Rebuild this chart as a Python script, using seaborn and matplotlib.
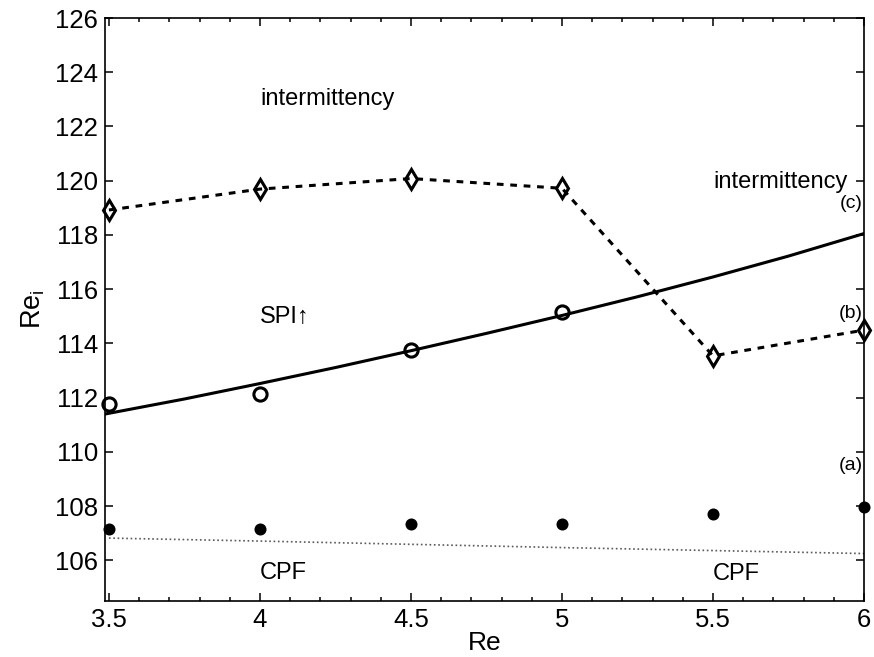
import matplotlib
matplotlib.use("Agg")
import matplotlib.pyplot as plt
import seaborn as sns
from matplotlib.ticker import MultipleLocator

# data
re_vals = [3.5, 4.0, 4.5, 5.0, 5.5, 6.0]
intermittency_c = [118.92, 119.69, 120.08, 119.72, 113.54, 114.49]
spi_points = [111.76, 112.15, 113.75, 115.14]
cpf_points = [107.17, 107.17, 107.35, 107.35, 107.70, 107.97]
curve_re = [3.48, 3.75, 4.0, 4.25, 4.5, 4.75, 5.0, 5.25, 5.5, 5.75, 6.0]
curve_b = [111.38, 111.95, 112.52, 113.11, 113.73, 114.37, 115.03, 115.72, 116.45, 117.22, 118.05]
curve_a = [106.82, 106.71, 106.59, 106.47, 106.36, 106.25]

sns.set_style("ticks")
plt.rcParams['font.family'] = ['Liberation Sans', 'DejaVu Sans']
plt.rcParams['mathtext.fontset'] = 'custom'
plt.rcParams['mathtext.rm'] = 'Liberation Sans'
plt.rcParams['mathtext.it'] = 'Liberation Sans'
plt.rcParams['text.color'] = 'black'
plt.rcParams['axes.labelcolor'] = 'black'
plt.rcParams['xtick.color'] = 'black'
plt.rcParams['ytick.color'] = 'black'

fig, ax = plt.subplots(figsize=(8.74, 6.57), dpi=100)
fig.subplots_adjust(left=105/874, right=864/874, top=1-18/657, bottom=1-601/657)

# smooth curve (b) and dotted curve (a)
sns.lineplot(x=curve_re, y=curve_b, ax=ax, color='black', lw=2.2, estimator=None)
sns.lineplot(x=re_vals, y=curve_a, ax=ax, color='0.35', lw=1.2,
             linestyle=(0, (1, 1.6)), estimator=None)

# dashed line with open diamonds (c)
sns.lineplot(x=re_vals, y=intermittency_c, ax=ax, color='black', lw=2.2,
             linestyle=(0, (2.2, 2.2)), estimator=None)
ax.plot(re_vals, intermittency_c, linestyle='none', marker='d', markersize=10,
        markerfacecolor='none', markeredgecolor='black', markeredgewidth=2.2,
        clip_on=False)

# open circles
ax.plot(re_vals[:4], spi_points, linestyle='none', marker='o', markersize=9.5,
        markerfacecolor='none', markeredgecolor='black', markeredgewidth=2.2,
        clip_on=False)

# filled dots
sns.scatterplot(x=re_vals, y=cpf_points, ax=ax, color='black', s=75,
                edgecolor='black', linewidth=0, clip_on=False)

ax.set_xlim(3.487, 6.0)
ax.set_ylim(104.5, 126)
ax.set_xticks(re_vals)
ax.set_xticklabels(['3.5', '4', '4.5', '5', '5.5', '6'])
ax.xaxis.set_minor_locator(MultipleLocator(0.1))
ax.set_yticks(range(106, 127, 2))

ax.tick_params(which='both', direction='in', top=True, right=True, labelsize=18.5,
               width=1.1, color='black', labelcolor='black')
ax.tick_params(which='major', length=5.5, pad=5)
ax.tick_params(which='minor', length=2.8)
for s in ax.spines.values():
    s.set_linewidth(1.2)
    s.set_color('black')
    s.set_visible(True)

ax.set_xlabel('Re', fontsize=19)
ax.xaxis.set_label_coords(0.5, -0.051)
ax.set_ylabel(r'Re$_\mathregular{i}$', fontsize=19.5, labelpad=6)

# region labels
ax.text(4.0, 123.0, 'intermittency', fontsize=17, va='center', ha='left')
ax.text(5.5, 119.95, 'intermittency', fontsize=17, va='center', ha='left')
ax.text(4.0, 114.97, 'SPI\u2191', fontsize=17, va='center', ha='left')
ax.text(4.0, 105.52, 'CPF', fontsize=17, va='center', ha='left')
ax.text(5.5, 105.48, 'CPF', fontsize=17, va='center', ha='left')
ax.text(5.995, 119.17, '(c)', fontsize=14, va='center', ha='right')
ax.text(5.995, 115.11, '(b)', fontsize=14, va='center', ha='right')
ax.text(5.995, 109.5, '(a)', fontsize=14, va='center', ha='right')

fig.savefig('out.png', dpi=100)
